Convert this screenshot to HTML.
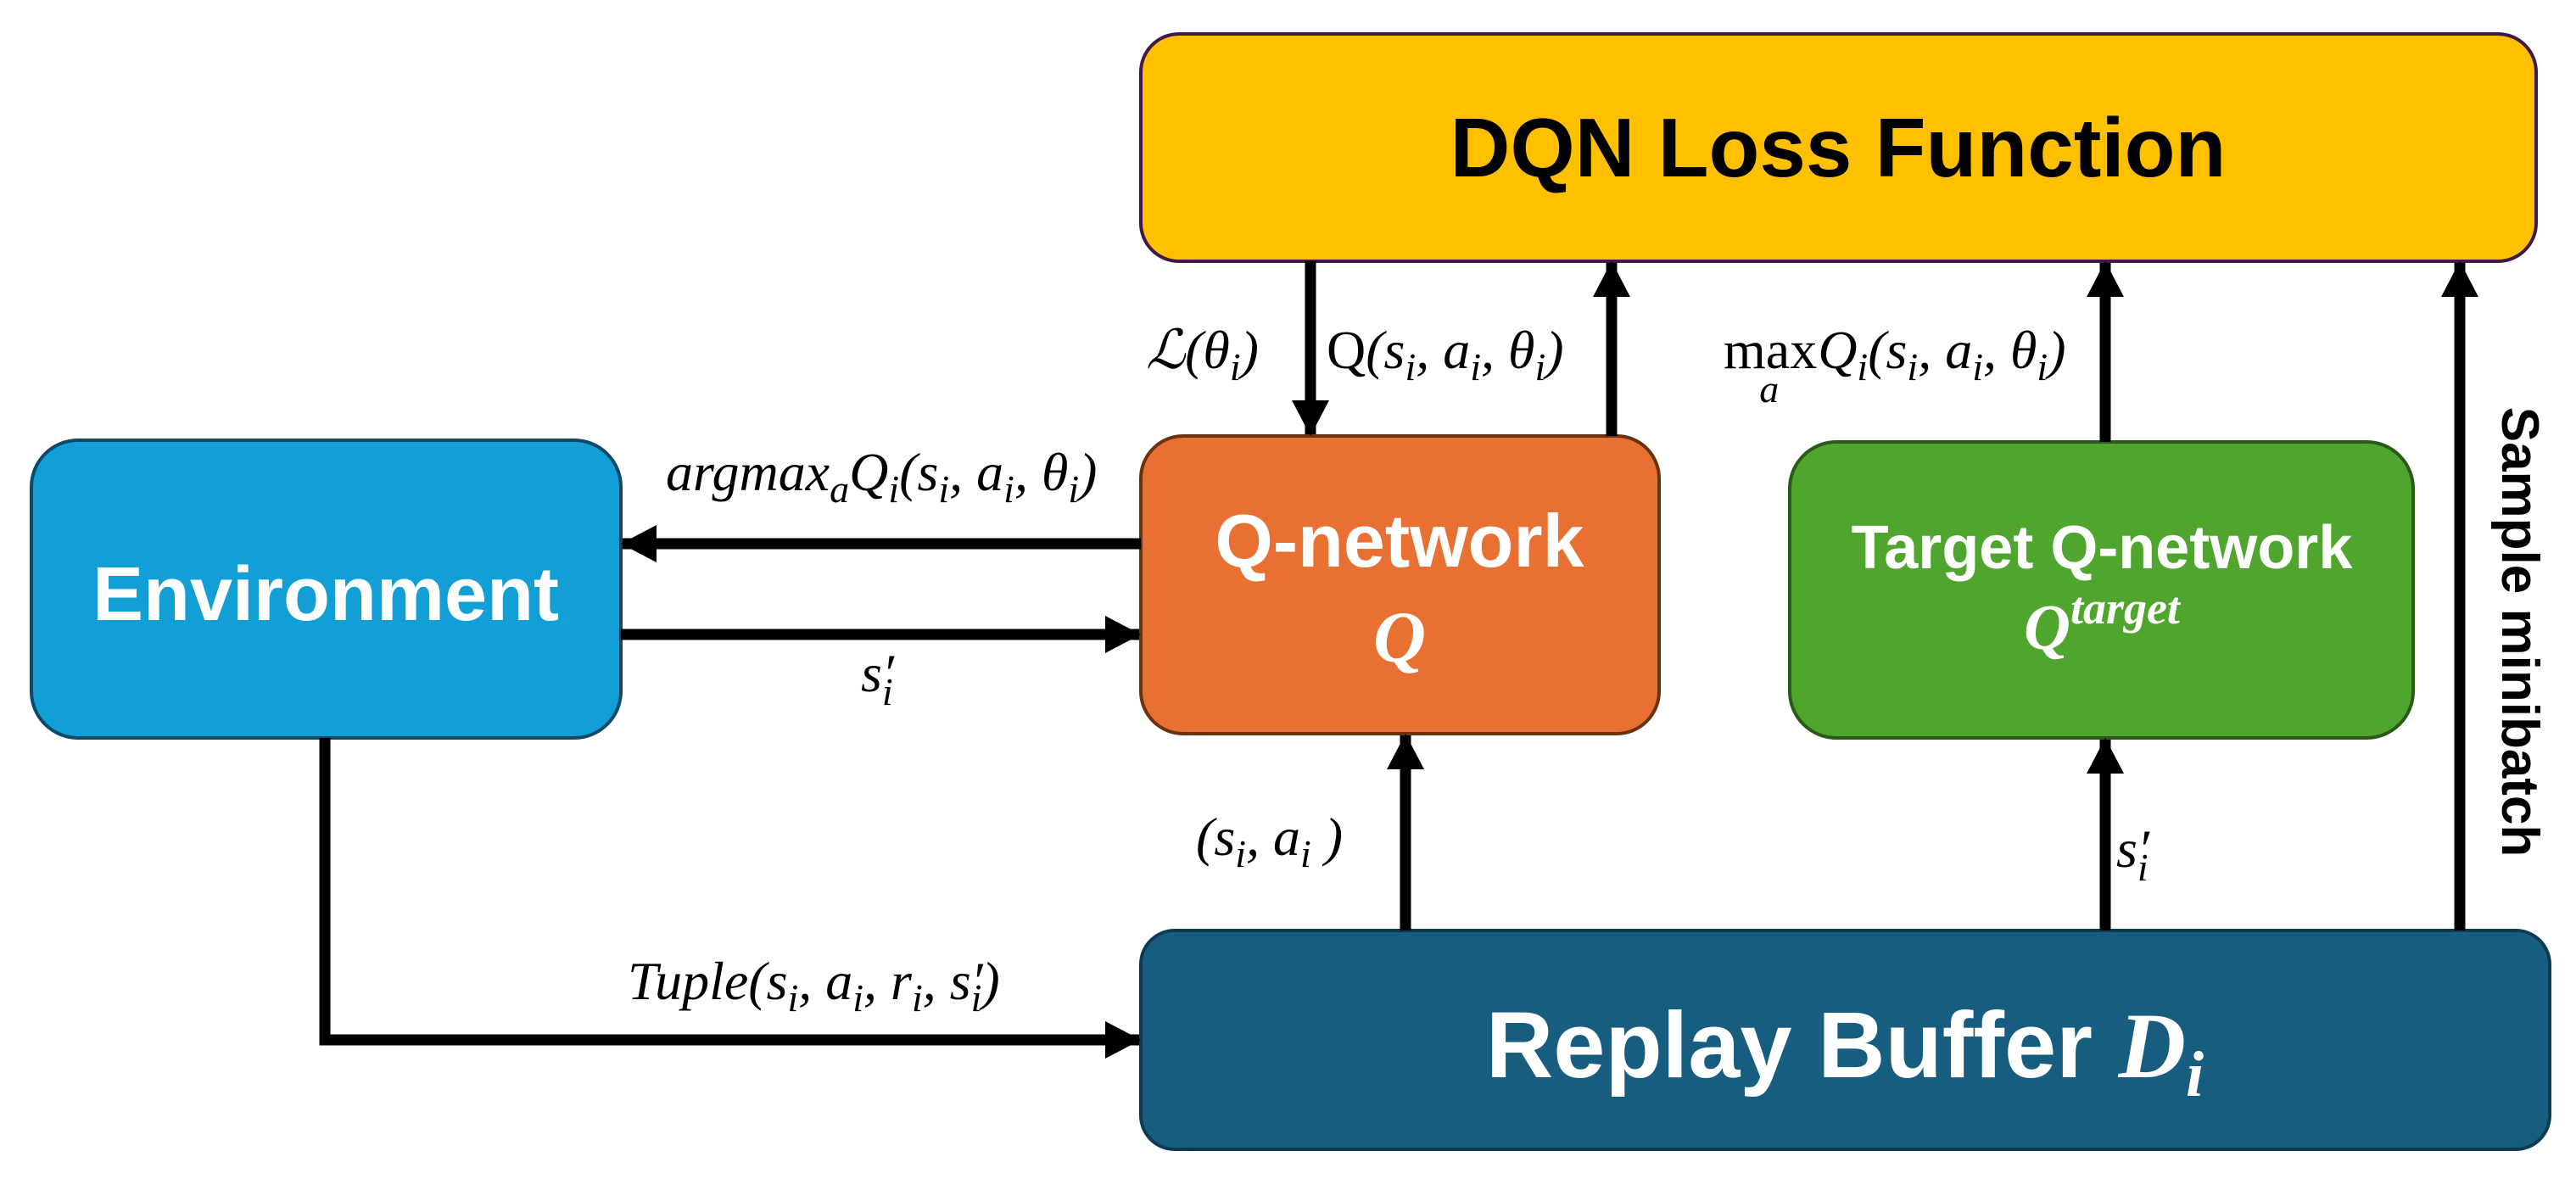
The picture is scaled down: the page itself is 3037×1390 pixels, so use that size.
<!DOCTYPE html>
<html><head><meta charset="utf-8"><style>
html,body{margin:0;padding:0;background:#fff}
svg{display:block}
.m{font-family:"Liberation Serif","DejaVu Serif",serif;font-style:italic;font-size:64px;fill:#000}
.b{font-family:"Liberation Sans",sans-serif;font-weight:bold;fill:#fff}
</style></head><body>
<svg width="3037" height="1390" viewBox="0 0 3037 1390" xmlns="http://www.w3.org/2000/svg">
<defs>
<marker id="ah" markerUnits="userSpaceOnUse" markerWidth="42" markerHeight="44" refX="40" refY="22" orient="auto">
<path d="M0,0 L42,22 L0,44 Z" fill="#000"/></marker>
</defs>
<rect x="1345" y="40" width="1645" height="268" rx="45" fill="#ffc000" stroke="#3d1a4a" stroke-width="4"/>
<rect x="37" y="519" width="695" height="351" rx="55" fill="#119fd6" stroke="#0d4a6a" stroke-width="4"/>
<rect x="1345" y="514" width="611" height="351" rx="50" fill="#e87033" stroke="#6b3210" stroke-width="4"/>
<rect x="2110" y="521" width="735" height="349" rx="55" fill="#50a52f" stroke="#2a5a18" stroke-width="4"/>
<rect x="1345" y="1097" width="1661" height="258" rx="40" fill="#175d80" stroke="#0d3a52" stroke-width="4"/>
<text x="2167" y="208" text-anchor="middle" font-family="Liberation Sans, sans-serif" font-weight="bold" font-size="98" fill="#000">DQN Loss Function</text>
<text x="384" y="731" text-anchor="middle" class="b" font-size="90">Environment</text>
<text x="1650" y="668" text-anchor="middle" class="b" font-size="88">Q-network</text>
<text x="1650" y="780" text-anchor="middle" font-family="Liberation Serif, serif" font-style="italic" font-weight="bold" font-size="86" fill="#fff">Q</text>
<text x="2478" y="670" text-anchor="middle" class="b" font-size="72">Target Q-network</text>
<text x="2478" y="765" text-anchor="middle" font-family="Liberation Serif, serif" font-style="italic" font-weight="bold" font-size="76" fill="#fff">Q<tspan font-size="54" dy="-30">target</tspan></text>
<text x="2175" y="1270" text-anchor="middle" class="b" font-size="110">Replay Buffer <tspan font-family="Liberation Serif, serif" font-style="italic">D</tspan><tspan font-family="Liberation Serif, serif" font-style="italic" font-size="76" dy="22">i</tspan></text>
<g stroke="#000" stroke-width="13" fill="none">
<line x1="1545" y1="308" x2="1545" y2="512" marker-end="url(#ah)"/>
<line x1="1900" y1="514" x2="1900" y2="310" marker-end="url(#ah)"/>
<line x1="2482" y1="521" x2="2482" y2="310" marker-end="url(#ah)"/>
<line x1="2900" y1="1097" x2="2900" y2="310" marker-end="url(#ah)"/>
<line x1="1657" y1="1097" x2="1657" y2="867" marker-end="url(#ah)"/>
<line x1="2482" y1="1097" x2="2482" y2="872" marker-end="url(#ah)"/>
<line x1="1345" y1="641" x2="734" y2="641" marker-end="url(#ah)"/>
<line x1="732" y1="748" x2="1343" y2="748" marker-end="url(#ah)"/>
<polyline points="383,870 383,1226 1343,1226" marker-end="url(#ah)"/>
</g>
<text x="1351" y="434" class="m">ℒ(θ<tspan font-size="46" dy="14">i</tspan><tspan dy="-14">)</tspan></text>
<text x="1564" y="434" class="m"><tspan font-style="normal">Q</tspan>(s<tspan font-size="46" dy="14">i</tspan><tspan dy="-14">, a</tspan><tspan font-size="46" dy="14">i</tspan><tspan dy="-14">, θ</tspan><tspan font-size="46" dy="14">i</tspan><tspan dy="-14">)</tspan></text>
<text x="2032" y="434" class="m"><tspan font-style="normal">max</tspan><tspan font-size="46" dx="-68" dy="40">a</tspan><tspan dx="46" dy="-40">Q</tspan><tspan font-size="46" dy="14">i</tspan><tspan dy="-14">(s</tspan><tspan font-size="46" dy="14">i</tspan><tspan dy="-14">, a</tspan><tspan font-size="46" dy="14">i</tspan><tspan dy="-14">, θ</tspan><tspan font-size="46" dy="14">i</tspan><tspan dy="-14">)</tspan></text>
<text x="785" y="578" class="m">argmax<tspan font-size="46" dy="14">a</tspan><tspan dy="-14">Q</tspan><tspan font-size="46" dy="14">i</tspan><tspan dy="-14">(s</tspan><tspan font-size="46" dy="14">i</tspan><tspan dy="-14">, a</tspan><tspan font-size="46" dy="14">i</tspan><tspan dy="-14">, θ</tspan><tspan font-size="46" dy="14">i</tspan><tspan dy="-14">)</tspan></text>
<text x="1015" y="815" class="m">s′<tspan font-size="46" dx="-14" dy="16">i</tspan></text>
<text x="740" y="1178" class="m">Tuple(s<tspan font-size="46" dy="14">i</tspan><tspan dy="-14">, a</tspan><tspan font-size="46" dy="14">i</tspan><tspan dy="-14">, r</tspan><tspan font-size="46" dy="14">i</tspan><tspan dy="-14">, s′</tspan><tspan font-size="46" dx="-14" dy="14">i</tspan><tspan dy="-14">)</tspan></text>
<text x="1410" y="1008" class="m">(s<tspan font-size="46" dy="14">i</tspan><tspan dy="-14">, a</tspan><tspan font-size="46" dy="14">i</tspan><tspan dy="-14"> )</tspan></text>
<text x="2495" y="1022" class="m">s′<tspan font-size="46" dx="-14" dy="16">i</tspan></text>
<text transform="translate(2950,745) rotate(90)" text-anchor="middle" font-family="Liberation Sans, sans-serif" font-weight="bold" font-size="62" fill="#000">Sample minibatch</text>
</svg>
</body></html>
